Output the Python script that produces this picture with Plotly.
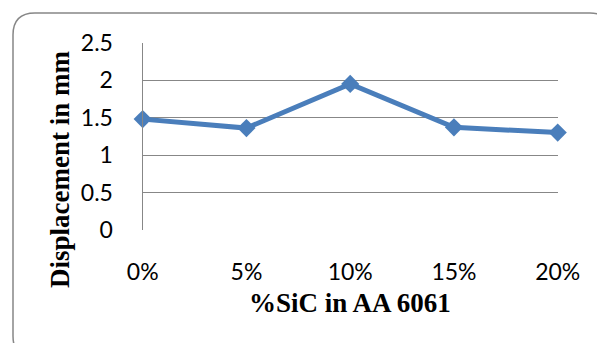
import plotly.graph_objects as go

# Data
sic_content = ["0%", "5%", "10%", "15%", "20%"]
displacement_mm = [1.48, 1.36, 1.95, 1.37, 1.30]
y_ticks = [0, 0.5, 1, 1.5, 2, 2.5]
y_tick_text = ["0", "0.5", "1", "1.5", "2", "2.5"]

W, H = 597, 343
BLUE = "#4A7EBB"
GRID = "#878787"


def px(x):
    return x / W


def py(y):
    return 1 - y / H


fig = go.Figure(
    go.Scatter(
        x=sic_content,
        y=displacement_mm,
        mode="lines+markers",
        line=dict(color=BLUE, width=5),
        marker=dict(symbol="diamond", size=14, color=BLUE),
        cliponaxis=False,
        showlegend=False,
    )
)

fig.update_layout(
    width=W,
    height=H,
    margin=dict(l=0, r=0, t=0, b=0, autoexpand=False),
    paper_bgcolor="white",
    plot_bgcolor="white",
    xaxis=dict(
        domain=[px(142.7), px(557.7)],
        type="category",
        range=[0, 4],
        automargin=False,
        showgrid=False,
        zeroline=False,
        showline=False,
        ticks="",
        ticklabelstandoff=26,
        tickfont=dict(family="Lato", size=23, color="#000000"),
    ),
    yaxis=dict(
        domain=[py(230), py(42.7)],
        range=[0, 2.5],
        automargin=False,
        tickvals=y_ticks,
        ticktext=y_tick_text,
        showgrid=True,
        gridcolor=GRID,
        gridwidth=1.3,
        zeroline=False,
        showline=True,
        linecolor=GRID,
        linewidth=1.3,
        ticks="",
        ticklabelstandoff=24,
        tickfont=dict(family="Lato", size=23, color="#000000"),
    ),
    annotations=[
        dict(
            text="<b>%SiC in AA 6061</b>",
            x=px(350), y=py(303), xref="paper", yref="paper",
            xanchor="center", yanchor="middle", showarrow=False,
            font=dict(family="Liberation Serif", size=27, color="#000000"),
        ),
        dict(
            text="<b>Displacement in mm</b>",
            x=px(60), y=py(170), xref="paper", yref="paper",
            xanchor="center", yanchor="middle", showarrow=False, textangle=-90,
            font=dict(family="Liberation Serif", size=27, color="#000000"),
        ),
    ],
)

# Rounded chart-area frame
x0, y0, x1, y1, r = 13, 13, 612, 358, 22
path = (
    f"M {px(x0)},{py(y0 + r)} "
    f"Q {px(x0)},{py(y0)} {px(x0 + r)},{py(y0)} "
    f"L {px(x1 - r)},{py(y0)} "
    f"Q {px(x1)},{py(y0)} {px(x1)},{py(y0 + r)} "
    f"L {px(x1)},{py(y1 - r)} "
    f"Q {px(x1)},{py(y1)} {px(x1 - r)},{py(y1)} "
    f"L {px(x0 + r)},{py(y1)} "
    f"Q {px(x0)},{py(y1)} {px(x0)},{py(y1 - r)} Z"
)
fig.add_shape(
    type="path", path=path, xref="paper", yref="paper",
    line=dict(color="#878787", width=1.5), layer="below",
)

fig.write_html("out.html")
